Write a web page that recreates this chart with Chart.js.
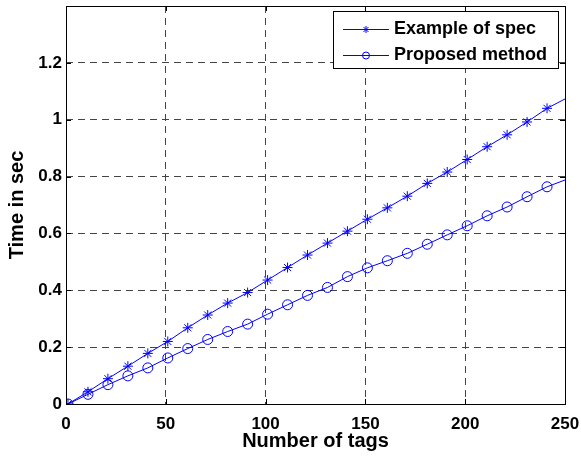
<!DOCTYPE html>
<html>
<head>
<meta charset="utf-8">
<script src="https://cdn.jsdelivr.net/npm/chart.js@4"></script>
<style>
html,body{margin:0;padding:0;background:#fff;}
#wrap{width:581px;height:456px;position:relative;}
</style>
</head>
<body>
<div id="wrap"><canvas id="c" width="581" height="456"></canvas></div>
<script>
const tags = [1, 11, 21, 31, 41, 51, 61, 71, 81, 91, 101, 111, 121, 131, 141, 151, 161, 171, 181, 191, 201, 211, 221, 231, 241, 250];
const exampleOfSpec = [0, 0.043, 0.089, 0.133, 0.178, 0.22, 0.268, 0.313, 0.355, 0.392, 0.436, 0.48, 0.524, 0.566, 0.608, 0.65, 0.69, 0.731, 0.776, 0.816, 0.86, 0.905, 0.947, 0.992, 1.04, 1.073];
const proposedMethod = [0, 0.034, 0.068, 0.099, 0.127, 0.162, 0.195, 0.227, 0.255, 0.281, 0.316, 0.349, 0.382, 0.41, 0.448, 0.479, 0.504, 0.53, 0.562, 0.595, 0.627, 0.662, 0.693, 0.729, 0.764, 0.788];
const seriesNames = ['Example of spec', 'Proposed method'];
const xTicks = [0, 50, 100, 150, 200, 250];
const yTicks = [0, 0.2, 0.4, 0.6, 0.8, 1, 1.2, 1.4];
const yTickLabels = ['0', '0.2', '0.4', '0.6', '0.8', '1', '1.2', ''];

const BLUE = 'rgb(0,0,255)';
const FONT = 'Liberation Sans, Arial, sans-serif';
const toPts = ys => tags.map((x, i) => ({x: x, y: ys[i]}));
// markers only at every 10th sample (last sample is the line end)
const radii = tags.map((x, i) => i === tags.length - 1 ? 0 : 5);

const boxPlugin = {
  id: 'box',
  afterDatasetsDraw(chart) {
    const {ctx, chartArea: a, scales} = chart;
    ctx.save();
    ctx.strokeStyle = '#000';
    ctx.lineWidth = 1;
    ctx.setLineDash([]);
    ctx.strokeRect(Math.round(a.left) + 0.5, Math.round(a.top) + 0.5, Math.round(a.right - a.left), Math.round(a.bottom - a.top));
    const L = 5;
    ctx.beginPath();
    xTicks.forEach(v => {
      const px = Math.round(scales.x.getPixelForValue(v)) + 0.5;
      ctx.moveTo(px, a.bottom); ctx.lineTo(px, a.bottom - L);
      ctx.moveTo(px, a.top); ctx.lineTo(px, a.top + L);
    });
    yTicks.forEach(v => {
      const py = Math.round(scales.y.getPixelForValue(v)) + 0.5;
      ctx.moveTo(a.left, py); ctx.lineTo(a.left + L, py);
      ctx.moveTo(a.right, py); ctx.lineTo(a.right - L, py);
    });
    ctx.stroke();

    // legend
    const lx = 333.5, ly = 11.5, lw = 225, lh = 57;
    ctx.fillStyle = '#fff';
    ctx.fillRect(lx, ly, lw, lh);
    ctx.strokeRect(lx, ly, lw, lh);
    const rows = [29, 55];
    chart.data.datasets.forEach((ds, i) => {
      const y = rows[i] + 0.5;
      ctx.strokeStyle = BLUE;
      ctx.lineWidth = 1;
      ctx.beginPath();
      ctx.moveTo(343, y); ctx.lineTo(389, y);
      ctx.stroke();
      ctx.fillStyle = 'rgba(0,0,0,0)';
      Chart.helpers.drawPoint(ctx, {pointStyle: ds.pointStyle, radius: 3.5, borderWidth: 1, rotation: 0}, 366, y);
      ctx.fillStyle = '#000';
      ctx.font = 'bold 18px ' + FONT;
      ctx.textBaseline = 'middle';
      ctx.textAlign = 'left';
      ctx.fillText(ds.label, 394, y);
    });
    ctx.restore();
  }
};

new Chart(document.getElementById('c'), {
  type: 'line',
  data: {
    datasets: [
      {label: seriesNames[0], data: toPts(exampleOfSpec), borderColor: BLUE, backgroundColor: 'rgba(0,0,0,0)', pointBorderColor: BLUE, borderWidth: 1, pointStyle: 'star', pointRadius: radii, pointBorderWidth: 1, tension: 0},
      {label: seriesNames[1], data: toPts(proposedMethod), borderColor: BLUE, backgroundColor: 'rgba(0,0,0,0)', pointBorderColor: BLUE, pointBackgroundColor: 'rgba(0,0,0,0)', borderWidth: 1, pointStyle: 'circle', pointRadius: radii, pointBorderWidth: 1, tension: 0}
    ]
  },
  options: {
    responsive: false,
    animation: false,
    layout: {padding: {left: 0, right: 16, top: 4, bottom: 0}},
    plugins: {legend: {display: false}, tooltip: {enabled: false}},
    scales: {
      x: {
        type: 'linear', min: 0, max: 250,
        afterBuildTicks: s => { s.ticks = xTicks.map(v => ({value: v})); },
        afterFit: s => { s.height = 52; s.paddingLeft = 0; s.paddingRight = 0; },
        ticks: {color: '#000', font: {family: FONT, size: 17, weight: 'bold'}, padding: 10, maxRotation: 0},
        grid: {color: '#444', lineWidth: 1, drawTicks: false, tickLength: 0},
        border: {display: false, dash: [7, 5]},
        title: {display: true, text: 'Number of tags', color: '#000', font: {family: FONT, size: 20, weight: 'bold'}, padding: {top: 0, bottom: 3}}
      },
      y: {
        type: 'linear', min: 0, max: 1.4,
        afterBuildTicks: s => { s.ticks = yTicks.map(v => ({value: v})); },
        afterFit: s => { s.width = 66; s.paddingTop = 0; s.paddingBottom = 0; },
        ticks: {color: '#000', font: {family: FONT, size: 17, weight: 'bold'}, padding: 4,
          callback: (v) => { const i = yTicks.findIndex(t => Math.abs(t - v) < 1e-9); return i >= 0 ? yTickLabels[i] : ''; }},
        grid: {color: '#444', lineWidth: 1, drawTicks: false, tickLength: 0},
        border: {display: false, dash: [7, 5]},
        title: {display: true, text: 'Time in sec', color: '#000', font: {family: FONT, size: 20, weight: 'bold'}, padding: {top: 5, bottom: 0}}
      }
    }
  },
  plugins: [boxPlugin]
});
</script>
</body>
</html>
